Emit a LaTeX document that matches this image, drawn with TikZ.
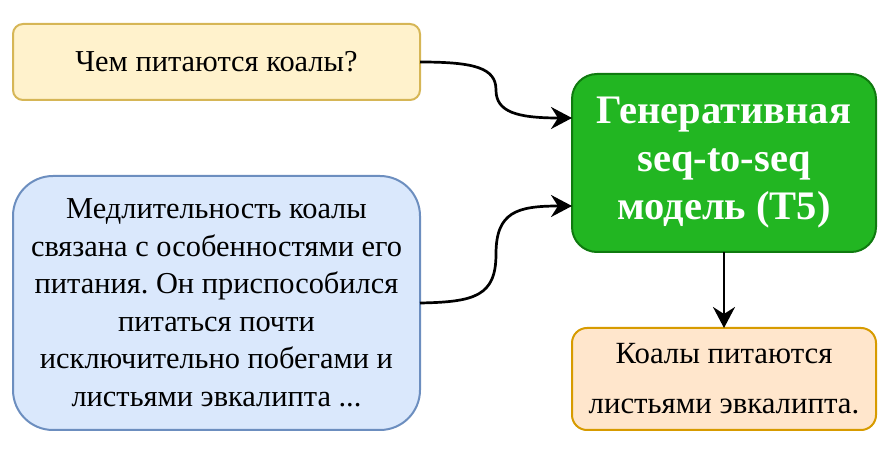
\documentclass[tikz,border=0pt]{standalone}
\usepackage{fontspec}
\setmainfont{Liberation Serif}
\usetikzlibrary{arrows.meta}
\frenchspacing
\definecolor{yfill}{HTML}{FFF2CC}
\definecolor{ydraw}{HTML}{D6B656}
\definecolor{bfill}{HTML}{DAE8FC}
\definecolor{bdraw}{HTML}{6C8EBF}
\definecolor{gfill}{HTML}{22B622}
\definecolor{gdraw}{HTML}{0F7A0F}
\definecolor{ofill}{HTML}{FFE6CC}
\definecolor{odraw}{HTML}{D79B00}
\tikzset{
  box/.style={draw, line width=2pt, inner sep=0pt, outer sep=0pt, align=center, text=black},
  conn/.style={line width=2.7pt, -{Stealth[length=21pt,width=22pt,inset=7pt]}},
}
\begin{document}
\begin{tikzpicture}[x=1pt,y=-1pt]
\useasboundingbox (0,0) rectangle (895,454);
\node[box, fill=yfill, draw=ydraw, rounded corners=10pt, minimum width=407pt, minimum height=76pt, font=\fontsize{30.4}{36}\selectfont] (q) at (216.5,62) {Чем питаются коалы?};
\node[box, fill=bfill, draw=bdraw, rounded corners=40pt, minimum width=407pt, minimum height=254pt, font=\fontsize{30.4}{37.5}\selectfont] (c) at (216.5,303) {Медлительность коалы\\связана с особенностями его\\питания. Он приспособился\\питаться почти\\исключительно побегами и\\листьями эвкалипта ...};
\node[box, fill=gfill, draw=gdraw, rounded corners=25pt, minimum width=304pt, minimum height=178pt, text=white, font=\fontsize{40.5}{48}\selectfont\bfseries] (m) at (724,163) {Генеративная\\seq-to-seq\\модель (T5)};
\node[box, fill=ofill, draw=odraw, rounded corners=15pt, minimum width=304pt, minimum height=102pt, font=\fontsize{30.8}{50}\selectfont] (a) at (724,379) {Коалы питаются\\листьями эвкалипта.};
\coordinate (m1) at ([yshift=45pt]m.west);
\coordinate (m2) at ([yshift=-43pt]m.west);
\draw[conn] (q.east) .. controls (475,62) and (496,68) .. (496,90) .. controls (496,112) and (517,118) .. (m1);
\draw[conn] (c.east) .. controls (475,302) and (496,296) .. (496,254) .. controls (496,212) and (517,206) .. (m2);
\draw[conn] (m.south) -- (a.north);
\end{tikzpicture}
\end{document}
